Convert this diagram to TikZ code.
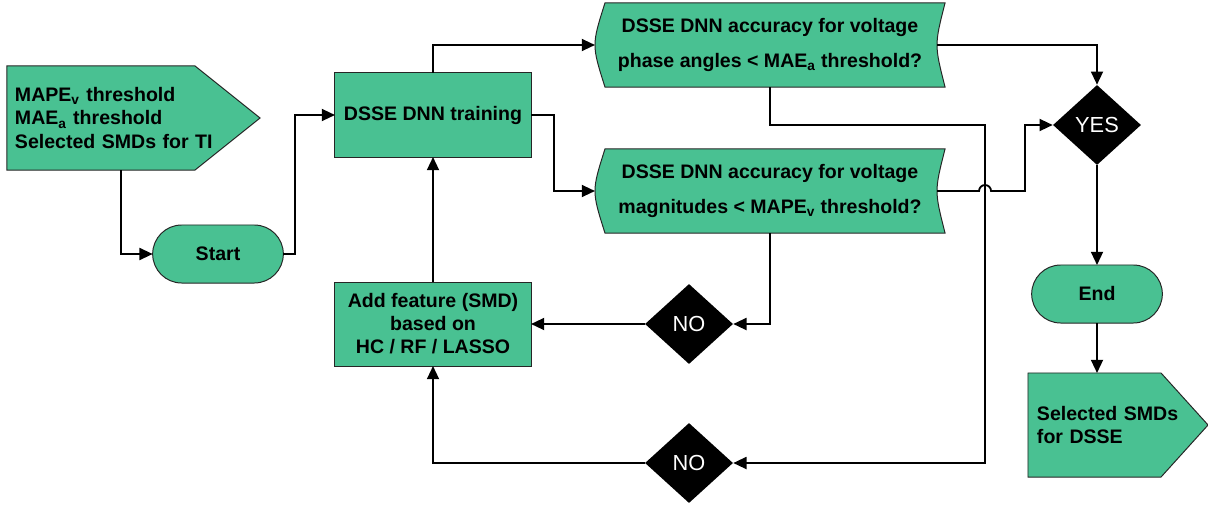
\documentclass[tikz,border=0pt]{standalone}
\usepackage{fontspec}
\setmainfont{Liberation Sans}
\usetikzlibrary{shapes.geometric,shapes.misc,arrows.meta,calc,backgrounds}
\definecolor{boxgreen}{RGB}{73,193,146}

\newcommand{\storedoutline}[1]{%
  \begin{pgfonlayer}{background}
    \filldraw[shapeline] ($(#1.north west)+(10,0)$) -- (#1.north east)
      .. controls ($(#1.east)+(-10.7,0)$) .. (#1.south east)
      -- ($(#1.south west)+(10,0)$)
      .. controls ($(#1.west)+(-3.3,0)$) .. ($(#1.north west)+(10,0)$) -- cycle;
  \end{pgfonlayer}}
\newcommand{\signaloutline}[2]{%
  \begin{pgfonlayer}{background}
    \filldraw[shapeline] (#1.north west) -- ($(#1.north east)+(-#2,0)$) -- (#1.east)
      -- ($(#1.south east)+(-#2,0)$) -- (#1.south west) -- cycle;
  \end{pgfonlayer}}

\begin{document}
\begin{tikzpicture}[x=0.025cm,y=-0.025cm,
  shapeline/.style={fill=boxgreen,draw=black!85,line width=0.7pt},
  txt/.style={font=\bfseries\fontsize{13.9}{16.4}\selectfont,outer sep=0pt},
  box/.style={txt,shapeline,rectangle,align=center,minimum width=4.9cm,minimum height=2.1cm},
  term/.style={txt,shapeline,rounded rectangle,minimum width=3.5cm,minimum height=1.45cm},
  query/.style={txt,align=center,minimum width=8.75cm,minimum height=2.1cm,font=\bfseries\fontsize{13.9}{25}\selectfont},
  decide/.style={diamond,fill=black,text=white,inner sep=0pt,minimum width=2.2cm,minimum height=2cm,font=\fontsize{15.5}{18}\selectfont},
  flow/.style={line width=1.3pt,-{Triangle[length=0.33cm,width=0.3cm]}}]
  \useasboundingbox (0,0) rectangle (1208,506);

  \node[txt,text width=5.925cm,inner xsep=0.2cm,align=left,minimum height=2.6cm] (inp) at (133.5,118) {MAPE\textsubscript{v} threshold\\MAE\textsubscript{a} threshold\\Selected SMDs for TI};
  \signaloutline{inp}{65}
  \node[term] (start) at (218,254) {Start};
  \node[box] (train) at (433,115) {DSSE DNN training};
  \node[box] (add) at (433,324) {Add feature (SMD)\\based on\\HC / RF / LASSO};
  \node[query] (qang) at (770,45) {DSSE DNN accuracy for voltage\\phase angles < MAE\textsubscript{a} threshold?};
  \storedoutline{qang}
  \node[query] (qmag) at (770,191) {DSSE DNN accuracy for voltage\\magnitudes < MAPE\textsubscript{v} threshold?};
  \storedoutline{qmag}
  \node[decide] (yes) at (1097,125) {YES};
  \node[decide] (nomag) at (689,324) {NO};
  \node[decide] (noang) at (689,463) {NO};
  \node[term] (fin) at (1097,294) {End};
  \node[txt,text width=4.05cm,inner xsep=0.225cm,align=left,minimum height=2.6cm] (out) at (1118,425) {Selected SMDs\\for DSSE};
  \signaloutline{out}{47}

  \draw[flow] ($(inp.south west)+(114,0)$) |- (start.west);
  \draw[flow] (start.east) -- ++(12,0) |- (train.west);
  \draw[flow] (train.north) |- (qang.west);
  \draw[flow] (train.east) -- ++(23,0) |- (qmag.west);
  \draw[flow] ($(qang.east)+(-8,0)$) -| (yes.north);
  \draw[flow] ($(qmag.east)+(-8,0)$) -- ++(42,0) arc (180:360:6) -- ++(34,0) |- (yes.west);
  \draw[flow] (qang.south) -- ++(0,38) -- ++(215,0) |- (noang.east);
  \draw[flow] (qmag.south) |- (nomag.east);
  \draw[flow] (nomag.west) -- (add.east);
  \draw[flow] (noang.west) -| (add.south);
  \draw[flow] (add.north) -- (train.south);
  \draw[flow] (yes.south) -- (fin.north);
  \draw[flow] (fin.south) -- (fin.south |- out.north);
\end{tikzpicture}
\end{document}
